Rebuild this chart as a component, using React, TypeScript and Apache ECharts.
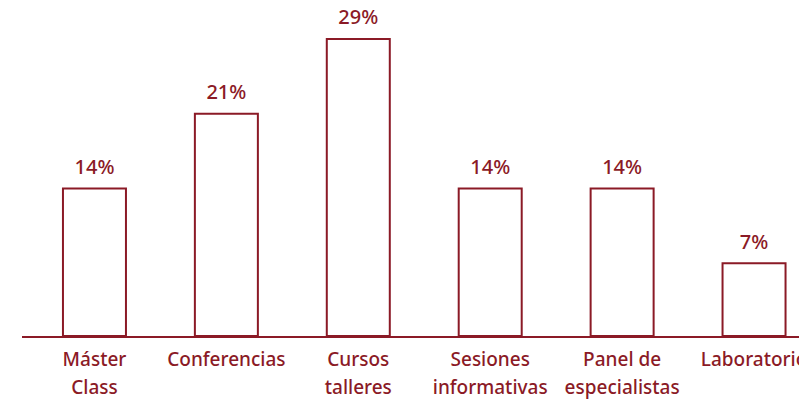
import React, { useEffect, useRef } from "react";
import * as echarts from "echarts";

const categories = [
  "Máster\nClass",
  "Conferencias",
  "Cursos\ntalleres",
  "Sesiones\ninformativas",
  "Panel de\nespecialistas",
  "Laboratorio",
];
const values = [14.29, 21.43, 28.57, 14.29, 14.29, 7.14];

const RED = "#8b1a26";
const FONT = "'Noto Sans', sans-serif";

export default function App() {
  const ref = useRef<HTMLDivElement>(null);
  useEffect(() => {
    if (!ref.current) return;
    const chart = echarts.init(ref.current, null, { renderer: "svg" });
    chart.setOption({
      animation: false,
      grid: { left: 28.5, top: 2, right: 0, bottom: 63, containLabel: false },
      xAxis: {
        type: "category",
        data: categories,
        axisLine: { lineStyle: { color: RED, width: 2 } },
        axisTick: { show: false },
        axisLabel: {
          color: RED,
          fontFamily: FONT,
          fontWeight: 500,
          fontSize: 19,
          lineHeight: 28,
          margin: 8,
          interval: 0,
        },
      },
      yAxis: {
        type: "value",
        min: 0,
        max: 32,
        show: false,
        splitLine: { show: false },
      },
      graphic: [
        {
          type: "line",
          shape: { x1: 22, y1: 337, x2: 30, y2: 337 },
          style: { stroke: RED, lineWidth: 2 },
        },
      ],
      series: [
        {
          type: "bar",
          data: values,
          barWidth: 65,
          itemStyle: { color: "#ffffff", borderColor: RED, borderWidth: 2 },
          label: {
            show: true,
            position: "top",
            distance: 11,
            color: RED,
            fontFamily: FONT,
            fontWeight: 500,
            fontSize: 20,
            formatter: (p: any) => Math.round(p.value) + "%",
          },
        },
      ],
    });
    return () => chart.dispose();
  }, []);
  return (
    <div
      style={{ position: "fixed", left: 0, top: 0, width: 799, height: 401, overflow: "hidden", background: "#fff" }}
    >
      <div ref={ref} style={{ width: 820, height: 401 }} />
    </div>
  );
}
